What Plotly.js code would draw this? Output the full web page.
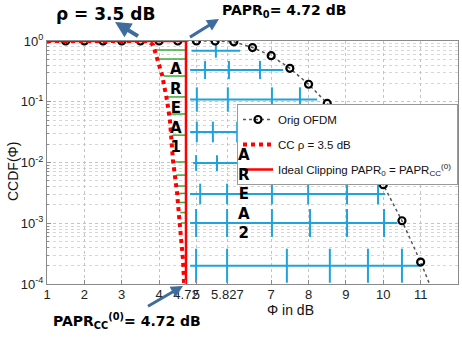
<!DOCTYPE html>
<html><head><meta charset="utf-8">
<script src="https://cdn.plot.ly/plotly-3.0.1.min.js"></script>
<style>html,body{margin:0;padding:0;background:#fff}#chart{width:462px;height:338px}</style>
</head><body><div id="chart"></div>
<script>
// ---- data ----
const origX = [1.5,2,2.5,3,3.5,4,4.5,5,5.5,6,6.5,7,7.5,8,8.5,9,9.5,10,10.5,11,11.5];
const origY = [1,1,1,1,1,1,1,1,1,0.97,0.78,0.573,0.355,0.194,0.094,0.039,0.0142,0.0043,0.0011,0.00023,0.00004];
const ccX = [1,3.5,3.70,3.84,3.94,4.08,4.21,4.29,4.37,4.48,4.56,4.64,4.67];
const ccY = [1,1,1,0.86,0.545,0.275,0.107,0.05,0.011,0.0032,0.00087,0.00025,0.0001];
const idealX = [1,4.72,4.72];
const idealY = [1,1,0.0001];
const xTicks = [1,2,3,4,4.72,5,5.827,7,8,9,10,11,12];
const xTickText = ['1','2','3','4','4.72','5','5.827','7','8','9','10','11','12'];
const yTicks = [1e-4,1e-3,1e-2,1e-1,1];
const yTickText = ['10<sup>-4</sup>','10<sup>-3</sup>','10<sup>-2</sup>','10<sup>-1</sup>','10<sup>0</sup>'];
// AREA 1 hatch levels (CCDF values)
const greenY = [0.711,0.505,0.265,0.12,0.0628,0.0282,0.0102,0.0062,0.0041,0.0031,0.0022,0.0015,0.00101];
// AREA 2 hatch rows
const blueY = [0.692,0.333,0.109,0.0318,0.0098,0.00303,0.00101,0.0002];
const blueX0 = [4.87,4.83,4.83,4.83,4.91,4.83,4.83,4.83];
const blueX1 = [6.17,7.32,8.23,6.3,6.3,10.05,10.37,10.98];
const blueTicks = [[5.52],[5.23,5.87,6.70],[5.01,5.84,7.02,7.77],[5.01,5.44,6.09],[4.99,5.55],[5.10,5.82,7.02,7.99,9.03,9.86],[4.99,5.82,7.02,8.04,9.03,10.02],[4.99,5.82,7.42,8.57,9.59,10.50]];
const blueTickHalf = [0.115,0.15,0.2,0.17,0.13,0.17,0.23,0.28];

// ---- helpers ----
function ccXAt(y){
  const ly = Math.log10(y);
  for(let i=0;i<ccY.length-1;i++){
    const a=Math.log10(ccY[i]), b=Math.log10(ccY[i+1]);
    if(ly<=a && ly>=b && a!==b){ const t=(ly-a)/(b-a); return ccX[i]+t*(ccX[i+1]-ccX[i]); }
  }
  return ccX[ccX.length-1];
}
const gx=[], gy=[];
greenY.forEach(y=>{ gx.push(ccXAt(y)+0.04, 4.72, null); gy.push(y,y,null); });
const bx=[], by=[];
blueY.forEach((y,i)=>{
  bx.push(blueX0[i], blueX1[i], null); by.push(y,y,null);
  const h=Math.pow(10,blueTickHalf[i]);
  blueTicks[i].forEach(t=>{ bx.push(t,t,null); by.push(y*h,y/h,null); });
});
const minorVals=[];
for(let d=-4; d<0; d++) for(let k=2;k<10;k++) minorVals.push(k*Math.pow(10,d));

const L=47,R=458,T=41,B=284;
const fx=p=>(p-L)/(R-L), fy=p=>(B-p)/(B-T);
const NARROW='"Liberation Sans",Arial,sans-serif';
const BOLD='"DejaVu Sans",Verdana,sans-serif';
const ARROW='#3e6c9f';

const traces = [
  {x:bx,y:by,mode:'lines',line:{color:'#1fa3dc',width:2},showlegend:false,hoverinfo:'skip'},
  {x:gx,y:gy,mode:'lines',line:{color:'#3aaa35',width:1.5},showlegend:false,hoverinfo:'skip'},
  {x:origX,y:origY,name:'Orig OFDM',legendgroup:'a',mode:'lines+markers',line:{color:'#555',width:1.5,dash:'dot'},
   marker:{symbol:'circle-open',size:7,color:'#000',line:{width:2.2,color:'#000'}}},
  {x:ccX,y:ccY,name:'CC \u03C1 = 3.5 dB',legendgroup:'b',mode:'lines',line:{color:'#ff0000',width:4,dash:'dot'}},
  {x:idealX,y:idealY,name:'Ideal Clipping PAPR<sub>0</sub> = PAPR<sub>CC</sub><sup>(0)</sup>',legendgroup:'c',mode:'lines',line:{color:'#ff0000',width:2.5}}
];

function txt(px,py,text,font,extra){
  return Object.assign({xref:'paper',yref:'paper',x:fx(px),y:fy(py),text:text,showarrow:false,
    xanchor:'center',yanchor:'middle',font:font},extra||{});
}
function arrow(hx,hy,ax,ay,w){
  return {xref:'paper',yref:'paper',x:fx(hx),y:fy(hy),ax:ax,ay:ay,text:' ',showarrow:true,
    arrowhead:2,arrowsize:0.8,arrowwidth:w,arrowcolor:ARROW,standoff:0,startstandoff:0};
}
const bf=s=>({family:BOLD,size:s,color:'#000'});
const ann = [
  txt(105,14,'<b>\u03C1 = 3.5 dB</b>',bf(17)),
  arrow(115,22,26,16,4),
  txt(284,11,'<b>PAPR<sub>0</sub>= 4.72 dB</b>',bf(14)),
  arrow(219,19,-32,20,3),
  txt(127,321,'<b>PAPR<sub>CC</sub><sup>(0)</sup>= 4.72 dB</b>',bf(14)),
  arrow(183,286,-38,22,3),
  txt(176,108,'<b>A<br>R<br>E<br>A<br>1</b>',bf(15)),
  txt(244,194,'<b>A<br>R<br>E<br>A<br>2</b>',bf(15)),
  txt(290,310,'\u03A6 in dB',{family:NARROW,size:14,color:'#111'}),
  txt(13,172,'CCDF(\u03A6)',{family:NARROW,size:14,color:'#111'},{textangle:-90})
];

const layout = {
  width:462,height:338,margin:{l:L,r:462-R,t:T,b:338-B,autoexpand:false},
  paper_bgcolor:'#fff',plot_bgcolor:'#fff',
  xaxis:{range:[1,12],tickmode:'array',tickvals:xTicks,ticktext:xTickText,tickangle:0,showgrid:true,gridcolor:'#c4c4c4',griddash:'dot',
    showline:true,linecolor:'#8a8a8a',mirror:true,ticks:'inside',ticklen:4,tickcolor:'#8a8a8a',zeroline:false,automargin:false,
    ticklabelstandoff:-2,tickfont:{family:NARROW,size:13,color:'#222'}},
  yaxis:{type:'log',range:[-4,0],tickmode:'array',tickvals:yTicks,ticktext:yTickText,showgrid:true,gridcolor:'#c4c4c4',griddash:'dot',
    showline:true,linecolor:'#8a8a8a',mirror:true,ticks:'inside',ticklen:4,tickcolor:'#8a8a8a',zeroline:false,automargin:false,
    tickfont:{family:NARROW,size:13,color:'#222'},
    minor:{tickmode:'array',tickvals:minorVals,showgrid:true,gridcolor:'#d6d6d6',griddash:'dot',ticks:'inside',ticklen:2,tickcolor:'#8a8a8a'}},
  legend:{x:fx(237),y:fy(104),xanchor:'left',yanchor:'top',bgcolor:'#fff',bordercolor:'#999',borderwidth:1,
    font:{family:NARROW,size:11.5,color:'#111'},tracegroupgap:6},
  annotations:ann,showlegend:true
};
Plotly.newPlot('chart',traces,layout,{staticPlot:true});
</script></body></html>
